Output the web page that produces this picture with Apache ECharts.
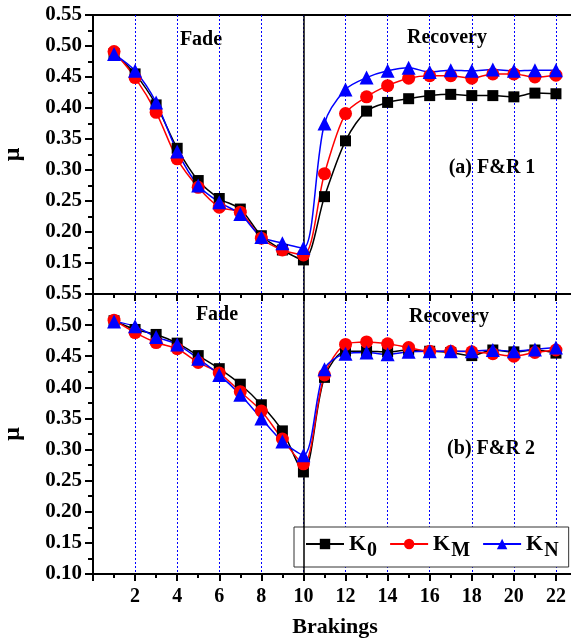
<!DOCTYPE html>
<html>
<head>
<meta charset="utf-8">
<script src="https://cdn.jsdelivr.net/npm/echarts@6/dist/echarts.min.js"></script>
<style>
  html, body { margin: 0; padding: 0; background: #fff; }
  #main { width: 571px; height: 642px; }
</style>
</head>
<body>
<div id="main"></div>
<script>
var braking = [1, 2, 3, 4, 5, 6, 7, 8, 9, 10, 11, 12, 13, 14, 15, 16, 17, 18, 19, 20, 21, 22];

// (a) F&R 1
var k0A = [0.488, 0.455, 0.405, 0.335, 0.283, 0.254, 0.237, 0.194, 0.171, 0.155, 0.257,
    0.347, 0.395, 0.409, 0.415, 0.420, 0.422, 0.420, 0.420, 0.418, 0.424, 0.423];
var kmA = [0.491, 0.449, 0.393, 0.318, 0.272, 0.240, 0.232, 0.190, 0.171, 0.163, 0.294,
    0.391, 0.418, 0.436, 0.448, 0.452, 0.452, 0.448, 0.455, 0.455, 0.450, 0.453];
var knA = [0.487, 0.460, 0.409, 0.330, 0.275, 0.248, 0.229, 0.192, 0.182, 0.174, 0.375,
    0.430, 0.449, 0.460, 0.465, 0.458, 0.461, 0.460, 0.462, 0.460, 0.461, 0.461];

// (b) F&R 2
var k0B = [0.507, 0.493, 0.485, 0.471, 0.451, 0.430, 0.405, 0.372, 0.330, 0.264, 0.416,
    0.458, 0.458, 0.457, 0.460, 0.458, 0.456, 0.451, 0.460, 0.457, 0.460, 0.455];
var kmB = [0.508, 0.488, 0.472, 0.462, 0.440, 0.423, 0.393, 0.362, 0.317, 0.277, 0.420,
    0.469, 0.473, 0.470, 0.464, 0.458, 0.458, 0.457, 0.454, 0.450, 0.456, 0.460];
var knB = [0.506, 0.498, 0.481, 0.469, 0.446, 0.420, 0.388, 0.350, 0.313, 0.291, 0.429,
    0.454, 0.456, 0.453, 0.457, 0.458, 0.458, 0.458, 0.460, 0.458, 0.461, 0.464];

var seriesNames = ['K0', 'KM', 'KN'];
var colors = ['#000000', '#ff0000', '#0000ff'];
var symbols = ['rect', 'circle', 'triangle'];
var symbolSizes = [11, 13, 14];

var FONT = '"Liberation Serif", "Times New Roman", serif';

var chart = echarts.init(document.getElementById('main'));

function zip(ys) {
    return braking.map(function (x, i) { return [x, ys[i]]; });
}

function xAxisFor(gridIndex, showLabels) {
    return {
        type: 'value',
        gridIndex: gridIndex,
        min: 0,
        max: 23,
        interval: 2,
        axisLine: { lineStyle: { color: '#000', width: 2 } },
        axisTick: { show: true, inside: false, length: 7, lineStyle: { width: 2, color: '#000' } },
        minorTick: { show: true, splitNumber: 2, length: 4, lineStyle: { width: 2, color: '#000' } },
        axisLabel: {
            show: showLabels,
            margin: 13,
            color: '#000',
            fontFamily: FONT,
            fontWeight: 'bold',
            fontSize: 20,
            formatter: function (v) { return (v > 0 && v < 23) ? String(v) : ''; }
        },
        splitLine: { show: true, lineStyle: { color: '#0000ff', width: 1, type: [2, 2] } },
        name: showLabels ? 'Brakings' : '',
        nameLocation: 'center',
        nameGap: 42,
        nameTextStyle: { color: '#000', fontFamily: FONT, fontWeight: 'bold', fontSize: 22 }
    };
}

function yAxisFor(gridIndex, showMin) {
    return {
        type: 'value',
        gridIndex: gridIndex,
        min: 0.10,
        max: 0.55,
        interval: 0.05,
        axisLine: { show: true, lineStyle: { color: '#000', width: 2 } },
        axisTick: { show: true, inside: false, length: 8, lineStyle: { width: 2, color: '#000' } },
        minorTick: { show: true, splitNumber: 2, length: 5, lineStyle: { width: 2, color: '#000' } },
        splitLine: { show: false },
        axisLabel: {
            showMinLabel: showMin,
            margin: 11,
            color: '#000',
            fontFamily: FONT,
            fontWeight: 'bold',
            fontSize: 21,
            formatter: function (v) { return v.toFixed(2); }
        },
        name: '\u03bc',
        nameLocation: 'center',
        nameRotate: 90,
        nameGap: 68,
        nameTextStyle: { color: '#000', fontFamily: FONT, fontWeight: 'bold', fontSize: 24 }
    };
}

function lineSeries(idx, gridIdx, ys) {
    var s = {
        name: seriesNames[idx],
        type: 'line',
        xAxisIndex: gridIdx,
        yAxisIndex: gridIdx,
        data: zip(ys),
        smooth: 0.3,
        symbol: symbols[idx],
        symbolSize: symbolSizes[idx],
        z: 10,
        itemStyle: { color: colors[idx] },
        lineStyle: { color: colors[idx], width: 1.5 }
    };
    if (idx === 0) {
        s.markLine = {
            silent: true,
            symbol: 'none',
            label: { show: false },
            lineStyle: { color: '#000', width: 1.5, type: 'solid' },
            data: [{ xAxis: 10 }]
        };
    }
    return s;
}

var textStyleBold = { fontFamily: FONT, fontWeight: 'bold', fontSize: 20, fill: '#000' };

function label(text, x, y) {
    return {
        type: 'text',
        x: x,
        y: y,
        style: Object.assign({ text: text, textAlign: 'center', textVerticalAlign: 'middle' }, textStyleBold)
    };
}

var option = {
    backgroundColor: '#fff',
    animation: false,
    grid: [
        { left: 93, width: 484, top: 15, height: 279, show: true, borderColor: '#000', borderWidth: 2, outerBoundsMode: 'none' },
        { left: 93, width: 484, top: 294, height: 280, show: true, borderColor: '#000', borderWidth: 2, outerBoundsMode: 'none' }
    ],
    xAxis: [xAxisFor(0, false), xAxisFor(1, true)],
    yAxis: [yAxisFor(0, false), yAxisFor(1, true)],
    legend: {
        data: seriesNames,
        left: 294,
        top: 527,
        padding: [6, 10, 6, 11],
        itemGap: 12,
        itemWidth: 38,
        itemHeight: 13,
        backgroundColor: '#fff',
        borderColor: '#333',
        borderWidth: 1,
        borderRadius: 0,
        formatter: function (name) {
            return '{k|K}{s|' + name.slice(1) + '}';
        },
        textStyle: {
            color: '#000',
            rich: {
                k: { fontFamily: FONT, fontWeight: 'bold', fontSize: 22, color: '#000' },
                s: { fontFamily: FONT, fontWeight: 'bold', fontSize: 20, color: '#000', padding: [14, 0, 0, 1] }
            }
        }
    },
    graphic: [
        label('Fade', 201, 40),
        label('Recovery', 447, 38),
        label('(a) F&R 1', 492, 168),
        label('Fade', 217, 315),
        label('Recovery', 449, 317),
        label('(b) F&R 2', 491, 449)
    ],
    series: [
        lineSeries(0, 0, k0A),
        lineSeries(1, 0, kmA),
        lineSeries(2, 0, knA),
        lineSeries(0, 1, k0B),
        lineSeries(1, 1, kmB),
        lineSeries(2, 1, knB)
    ]
};

option && chart.setOption(option);
</script>
</body>
</html>
